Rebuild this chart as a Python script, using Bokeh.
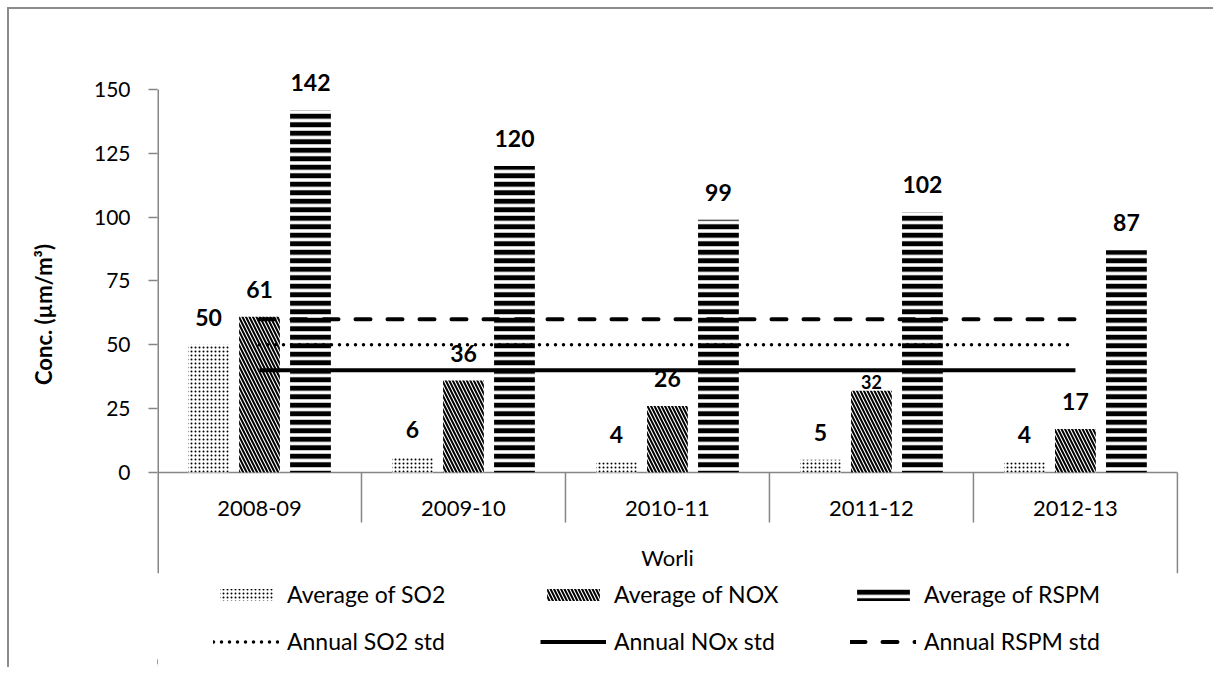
from bokeh.plotting import figure
from bokeh.layouts import column
from bokeh.models import Range1d, FixedTicker, ColumnDataSource, LabelSet, Legend, LegendItem
from bokeh.core.properties import value
from bokeh.embed import file_html
from bokeh.resources import INLINE

# ---- data ----
categories = ["2008-09", "2009-10", "2010-11", "2011-12", "2012-13"]
group_label = "Worli"
so2 = [50, 6, 4, 5, 4]
nox = [61, 36, 26, 32, 17]
rspm = [142, 120, 99, 102, 87]
so2_std = 50
nox_std = 40
rspm_std = 60
y_ticks = [0, 25, 50, 75, 100, 125, 150]

FONT = "Lato"
GRAY = "#868686"
n = len(categories)
centers = [i + 0.5 for i in range(n)]
Y_MIN = -39.56
Y_TOP = y_ticks[-1]

SO2_STYLE = dict(fill_color="white", hatch_pattern="dot", hatch_color="black",
                 hatch_scale=4, hatch_weight=2.4, line_color=None)
NOX_STYLE = dict(fill_color="white", hatch_pattern="left_diagonal_line", hatch_color="black",
                 hatch_scale=7, hatch_weight=2, line_color=None)
RSPM_STYLE = dict(fill_color="white", hatch_pattern="horizontal_line", hatch_color="black",
                  hatch_scale=8.5, hatch_weight=5, line_color=None)
SO2L_STYLE = dict(line_color="black", line_width=3.5, line_dash="0 8", line_cap="round")
NOXL_STYLE = dict(line_color="black", line_width=4)
RSPML_STYLE = dict(line_color="black", line_width=4, line_dash="15 17", line_cap="round")

W = 1204
p = figure(width=W, height=571,
           x_range=Range1d(0, n + 0.02), y_range=Range1d(Y_MIN, 163.3),
           x_axis_location=None,
           output_backend="svg", toolbar_location=None,
           min_border_left=148, min_border_right=32,
           min_border_top=46, min_border_bottom=7)
p.xgrid.visible = False
p.ygrid.visible = False
p.outline_line_color = None
p.background_fill_color = "white"
p.border_fill_color = "white"

ya = p.yaxis[0]
ya.ticker = FixedTicker(ticks=y_ticks, minor_ticks=[])
ya.axis_line_color = None
ya.major_tick_line_color = GRAY
ya.major_tick_line_width = 1.5
ya.major_tick_out = 9
ya.major_tick_in = 0
ya.minor_tick_out = 0
ya.minor_tick_in = 0
ya.major_label_text_font = FONT
ya.major_label_text_font_size = "21px"
ya.major_label_text_color = "black"
ya.major_label_standoff = 18
ya.axis_label = "Conc. (µm/m³)"
ya.axis_label_text_font = FONT
ya.axis_label_text_font_size = "22px"
ya.axis_label_text_font_style = "bold"
ya.axis_label_text_color = "black"
ya.axis_label_standoff = 34

# ---- axis lines and category axis (in data space) ----
p.segment(x0=[0], y0=[Y_MIN], x1=[0], y1=[Y_TOP], line_color=GRAY, line_width=3)
p.segment(x0=[0], y0=[0], x1=[n], y1=[0], line_color=GRAY, line_width=1.5)
inner = list(range(1, n))
p.segment(x0=inner, y0=[0] * len(inner), x1=inner, y1=[-19.6] * len(inner),
          line_color=GRAY, line_width=1.5)
p.segment(x0=[n], y0=[0], x1=[n], y1=[Y_MIN], line_color=GRAY, line_width=1.5)
p.text(x=centers, y=[-14.1] * n, text=categories, text_align="center",
       text_baseline="middle", text_font=value(FONT), text_font_size="22px",
       text_color="black")
p.text(x=[n / 2], y=[-33.3], text=[group_label], text_align="center",
       text_baseline="middle", text_font=value(FONT), text_font_size="22px",
       text_color="black")

# ---- bars ----
off = 0.25
bw = 0.2
x_so2 = [c - off for c in centers]
x_nox = centers
x_rspm = [c + off for c in centers]
p.vbar(x=x_so2, top=so2, width=bw, bottom=0, **SO2_STYLE)
p.vbar(x=x_nox, top=nox, width=bw, bottom=0, **NOX_STYLE)
p.vbar(x=x_rspm, top=rspm, width=bw, bottom=0, **RSPM_STYLE)

# ---- standard lines ----
xs = [centers[0], centers[-1]]
p.line(x=xs, y=[so2_std] * 2, **SO2L_STYLE)
p.line(x=xs, y=[nox_std] * 2, **NOXL_STYLE)
p.line(x=xs, y=[rspm_std] * 2, **RSPML_STYLE)

# ---- value labels ----
special = (3, "nox")  # smaller label in the reference
lx, ly, lt = [], [], []
for xv, vals, key in ((x_so2, so2, "so2"), (x_nox, nox, "nox"), (x_rspm, rspm, "rspm")):
    for i, v in enumerate(vals):
        if (i, key) == special:
            continue
        lx.append(xv[i]); ly.append(v); lt.append(str(v))
src = ColumnDataSource(dict(x=lx, y=ly, t=lt))
p.add_layout(LabelSet(x="x", y="y", text="t", source=src, y_offset=19,
                      text_align="center", text_baseline="alphabetic",
                      text_font=value(FONT), text_font_size="23px",
                      text_font_style="bold", text_color="black"))
src2 = ColumnDataSource(dict(x=[x_nox[special[0]]], y=[nox[special[0]]],
                             t=[str(nox[special[0]])]))
p.add_layout(LabelSet(x="x", y="y", text="t", source=src2, y_offset=2,
                      text_align="center", text_baseline="alphabetic",
                      text_font=value(FONT), text_font_size="18px",
                      text_font_style="bold", text_color="black"))

# ---- legend strip (second figure, same styles; its frame is aligned with the chart's) ----
H2 = 87
q = figure(width=W, height=H2, x_range=Range1d(0, 10), y_range=Range1d(0, 10),
           x_axis_location=None, y_axis_location=None,
           output_backend="svg", toolbar_location=None,
           min_border_left=0, min_border_right=0, min_border_top=0, min_border_bottom=0)
q.xgrid.visible = False
q.ygrid.visible = False
q.outline_line_color = None
q.border_fill_color = "white"
q.background_fill_color = "white"

# legend key renderers: one point each, kept outside the visible range
far = [-1000]
g_so2 = q.vbar(x=far, top=[1], width=1, **SO2_STYLE)
g_nox = q.vbar(x=far, top=[1], width=1, **NOX_STYLE)
g_rspm = q.vbar(x=far, top=[1], width=1, **RSPM_STYLE)
g_s = q.line(x=far * 2, y=[1, 1], **SO2L_STYLE)
g_n = q.line(x=far * 2, y=[1, 1], **NOXL_STYLE)
g_r = q.line(x=far * 2, y=[1, 1], **RSPML_STYLE)


def make_legend(items, loc):
    return Legend(items=items, location=loc, orientation="vertical",
                  glyph_width=66, glyph_height=15, label_standoff=8,
                  spacing=19, padding=0, margin=0, label_height=28,
                  border_line_color=None, background_fill_alpha=0,
                  label_text_font=FONT, label_text_font_size="23px",
                  label_text_color="black")


q.add_layout(make_legend([LegendItem(label="Average of SO2", renderers=[g_so2]),
                          LegendItem(label="Annual SO2 std", renderers=[g_s])], (56, 12)))
q.add_layout(make_legend([LegendItem(label="Average of NOX", renderers=[g_nox]),
                          LegendItem(label="Annual NOx std", renderers=[g_n])], (383, 12)))
q.add_layout(make_legend([LegendItem(label="Average of RSPM", renderers=[g_rspm]),
                          LegendItem(label="Annual RSPM std", renderers=[g_r])], (693, 12)))

layout = column(p, q, spacing=0)
layout.styles = {"border-top": "2px solid #8c8c8c", "border-left": "2px solid #8c8c8c",
                 "margin-top": "7px", "margin-left": "7px"}

open("out.html", "w").write(file_html(layout, INLINE))
